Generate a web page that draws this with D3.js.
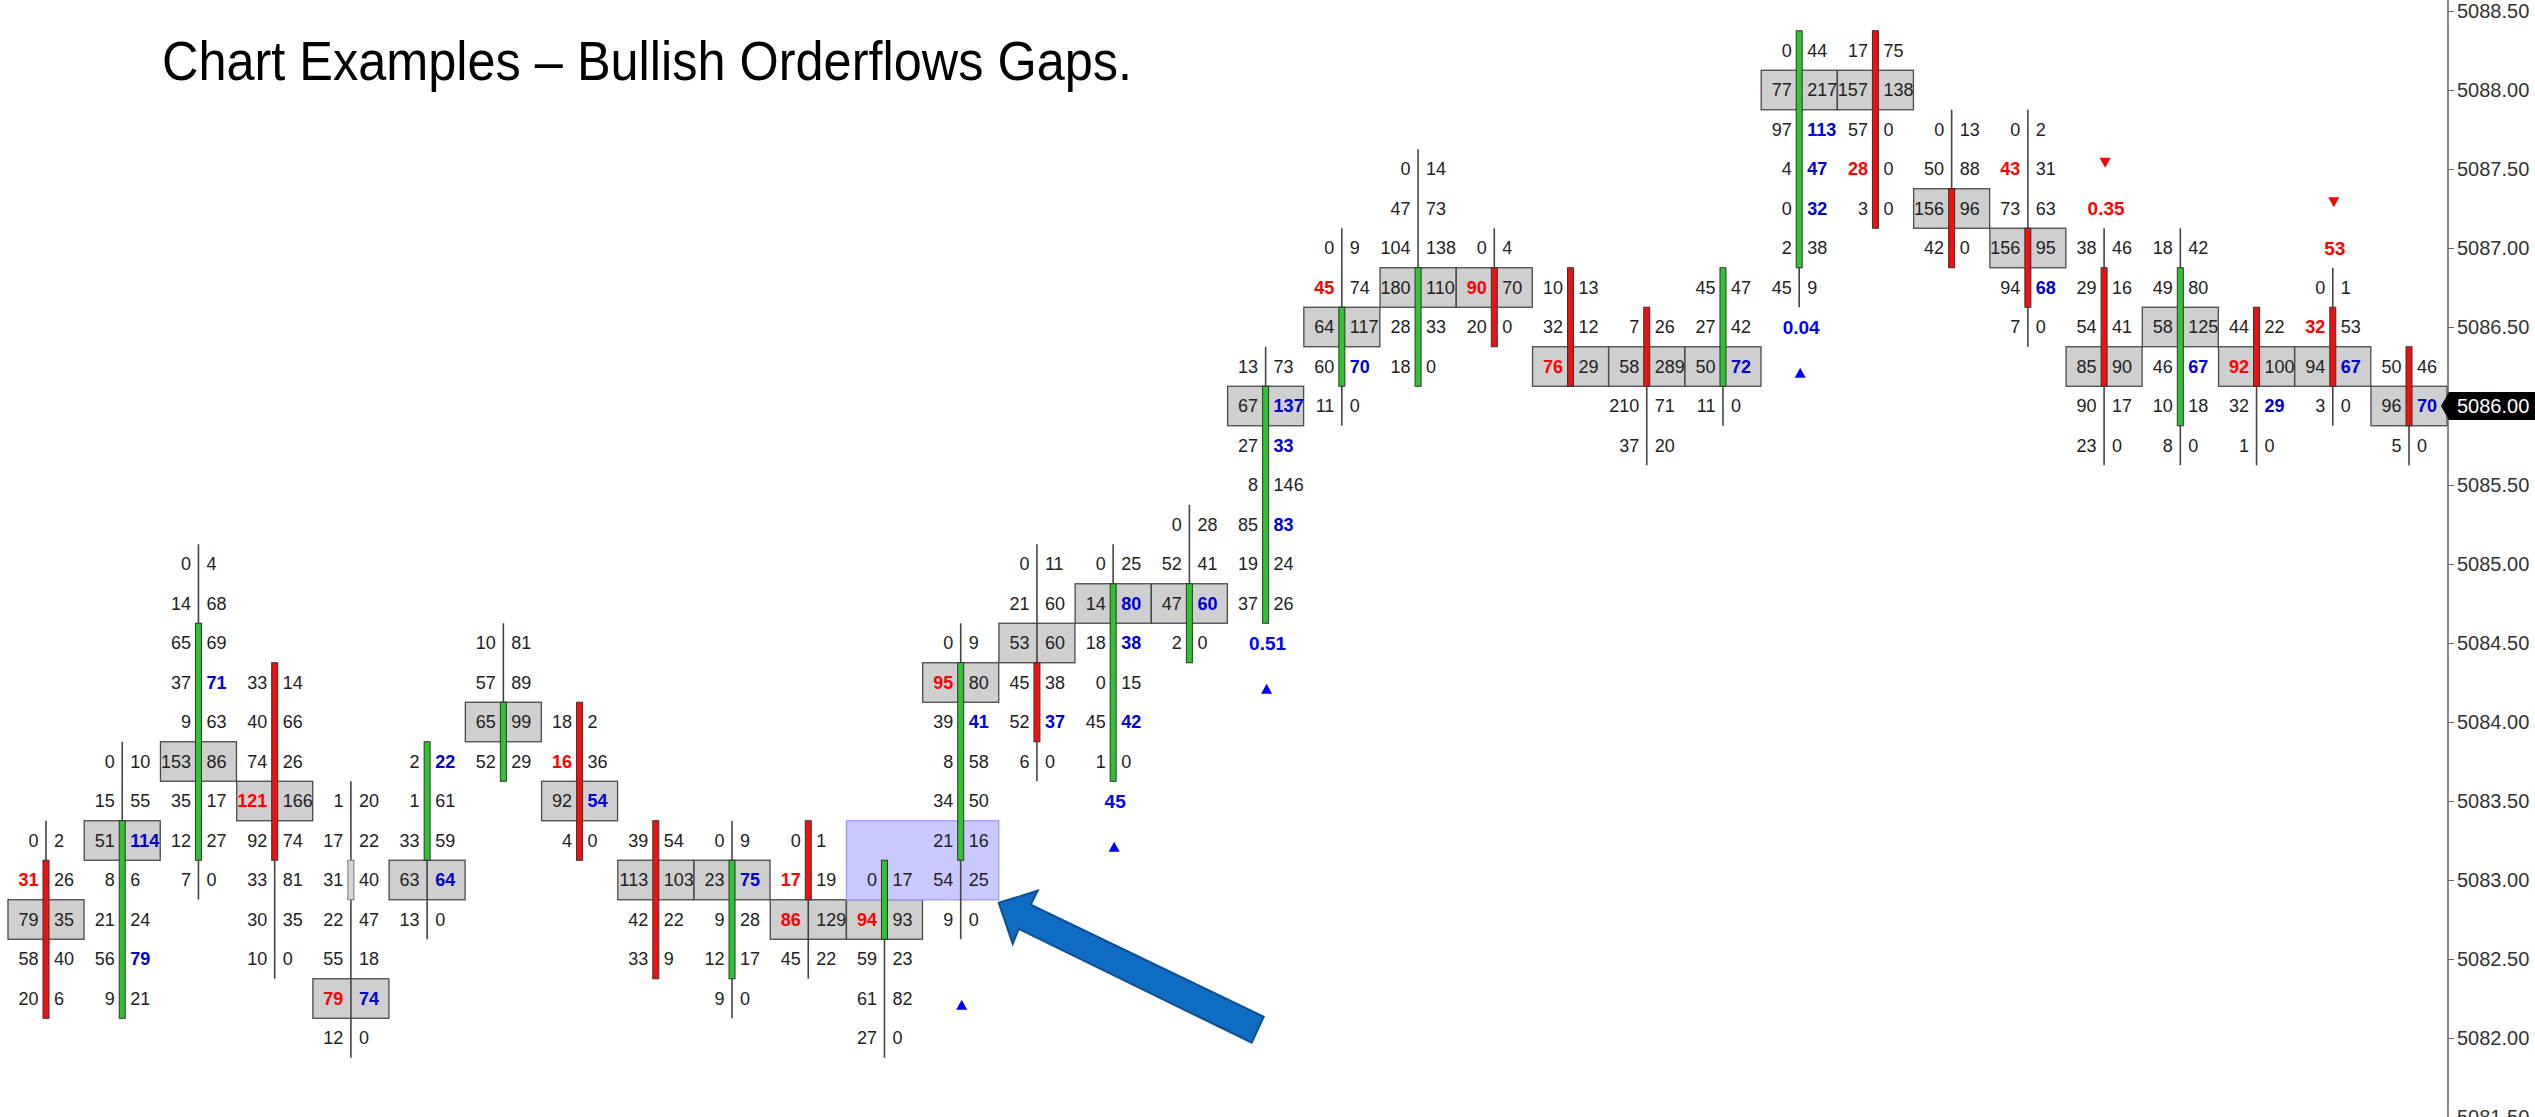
<!DOCTYPE html>
<html>

<head>
    <meta charset="utf-8">
    <style>
        body {
            margin: 0;
            background: #fff;
        }

        svg {
            display: block;
            font-family: "Liberation Sans", Arial, sans-serif;
        }

        .y .tick text {
            font-size: 20px;
            fill: #333;
        }

        .y .tick line {
            stroke: #666;
        }

        .y .domain {
            display: none;
        }

        .cell {
            font-size: 18px;
            fill: #222;
        }
    </style>
</head>

<body>
    <svg width="2535" height="1117"></svg>
</body>

<script src="https://d3js.org/d3.v7.min.js"></script>

<script>
    // price ladder
    let priceTicks = [5088.5, 5088, 5087.5, 5087, 5086.5, 5086, 5085.5, 5085, 5084.5, 5084, 5083.5, 5083, 5082.5, 5082, 5081.5];
    let tickStep = 0.25;
    let lastPrice = 5086.00;

    // top price of each footprint bar
    let barTop = [5083.25, 5083.75, 5085.00, 5084.25, 5083.50, 5083.75, 5084.50, 5084.00, 5083.25, 5083.25, 5083.25, 5083.00, 5084.50, 5085.00, 5085.00, 5085.25,
        5086.25, 5087.00, 5087.50, 5087.00, 5086.75, 5086.50, 5086.75, 5088.25, 5088.25, 5087.75, 5087.75, 5087.00, 5087.00, 5086.50, 5086.75, 5086.25];

    // bid x ask volume per row, top row first
    let bidVol = [
        [0, 31, 79, 58, 20], [0, 15, 51, 8, 21, 56, 9], [0, 14, 65, 37, 9, 153, 35, 12, 7], [33, 40, 74, 121, 92, 33, 30, 10],
        [1, 17, 31, 22, 55, 79, 12], [2, 1, 33, 63, 13], [10, 57, 65, 52], [18, 16, 92, 4],
        [39, 113, 42, 33], [0, 23, 9, 12, 9], [0, 17, 86, 45], [0, 94, 59, 61, 27],
        [0, 95, 39, 8, 34, 21, 54, 9], [0, 21, 53, 45, 52, 6], [0, 14, 18, 0, 45, 1], [0, 52, 47, 2],
        [13, 67, 27, 8, 85, 19, 37], [0, 45, 64, 60, 11], [0, 47, 104, 180, 28, 18], [0, 90, 20],
        [10, 32, 76], [7, 58, 210, 37], [45, 27, 50, 11], [0, 77, 97, 4, 0, 2, 45],
        [17, 157, 57, 28, 3], [0, 50, 156, 42], [0, 43, 73, 156, 94, 7], [38, 29, 54, 85, 90, 23],
        [18, 49, 58, 46, 10, 8], [44, 92, 32, 1], [0, 32, 94, 3], [50, 96, 5]];
    let askVol = [
        [2, 26, 35, 40, 6], [10, 55, 114, 6, 24, 79, 21], [4, 68, 69, 71, 63, 86, 17, 27, 0], [14, 66, 26, 166, 74, 81, 35, 0],
        [20, 22, 40, 47, 18, 74, 0], [22, 61, 59, 64, 0], [81, 89, 99, 29], [2, 36, 54, 0],
        [54, 103, 22, 9], [9, 75, 28, 17, 0], [1, 19, 129, 22], [17, 93, 23, 82, 0],
        [9, 80, 41, 58, 50, 16, 25, 0], [11, 60, 60, 38, 37, 0], [25, 80, 38, 15, 42, 0], [28, 41, 60, 0],
        [73, 137, 33, 146, 83, 24, 26], [9, 74, 117, 70, 0], [14, 73, 138, 110, 33, 0], [4, 70, 0],
        [13, 12, 29], [26, 289, 71, 20], [47, 42, 72, 0], [44, 217, 113, 47, 32, 38, 9],
        [75, 138, 0, 0, 0], [13, 88, 96, 0], [2, 31, 63, 95, 68, 0], [46, 16, 41, 90, 17, 0],
        [42, 80, 125, 67, 18, 0], [22, 100, 29, 0], [1, 53, 67, 0], [46, 70, 0]];

    // row index of the point of control (grey box)
    let pocRow = [2, 2, 5, 3, 5, 3, 2, 2, 1, 1, 2, 1, 1, 2, 1, 2, 1, 2, 3, 1, 2, 1, 2, 1, 1, 2, 3, 3, 2, 1, 2, 1];

    // imbalance rows (red bid / blue ask)
    let bidImb = [[1], [], [], [3], [5], [], [], [1], [], [], [1, 2], [1], [1], [], [], [],
        [], [1], [], [1], [2], [], [], [], [3], [], [1], [], [], [1], [1], []];
    let askImb = [[], [2, 5], [3], [], [5], [0, 3], [], [2], [], [1], [], [], [2], [4], [1, 2, 4], [2],
        [1, 2, 4], [3], [], [], [], [], [2], [2, 3, 4], [], [], [4], [], [3], [2], [2], [1]];

    // candle bodies
    let bodyHi = [5083.00, 5083.25, 5084.50, 5084.25, 5083.00, 5083.75, 5084.00, 5084.00, 5083.25, 5083.00, 5083.25, 5083.00, 5084.25, 5084.25, 5084.75, 5084.75,
        5086.00, 5086.50, 5086.75, 5086.75, 5086.75, 5086.50, 5086.75, 5088.25, 5088.25, 5087.25, 5087.00, 5086.75, 5086.75, 5086.50, 5086.50, 5086.25];
    let bodyLo = [5082.25, 5082.25, 5083.25, 5083.25, 5083.00, 5083.25, 5083.75, 5083.25, 5082.50, 5082.50, 5083.00, 5082.75, 5083.25, 5084.00, 5083.75, 5084.50,
        5084.75, 5086.25, 5086.25, 5086.50, 5086.25, 5086.25, 5086.25, 5087.00, 5087.25, 5087.00, 5086.75, 5086.25, 5086.00, 5086.25, 5086.25, 5086.00];
    let bodyDir = ["dn", "up", "up", "dn", "flat", "up", "up", "dn", "dn", "up", "dn", "up", "up", "dn", "up", "up",
        "up", "up", "up", "dn", "dn", "dn", "up", "up", "dn", "dn", "dn", "dn", "up", "dn", "dn", "dn"];

    // signals under / over bars
    let sigBar = [12, 14, 16, 23, 27, 30];
    let sigText = ["", "45", "0.51", "0.04", "0.35", "53"];
    let sigUp = [true, true, true, true, false, false];

    // the gap zone
    let gapBars = [11, 12];
    let gapPrices = [5083.25, 5083.00];

    let width = 2535;
    let height = 1117;
    let svg = d3.select("svg");

    let y = d3.scaleLinear().domain([5081.5, 5088.5]).range([1117, 11]);
    let x = d3.scaleLinear().domain([0, barTop.length - 1]).range([46, 2409]);
    let half = (y(5086) - y(5086 + tickStep)) / 2;
    let cellHalf = 38;

    let cells = [];
    barTop.forEach((top, i) => {
        bidVol[i].forEach((b, j) => {
            cells.push({
                bar: i, price: top - j * tickStep, bid: b, ask: askVol[i][j],
                poc: pocRow[i] === j, bidHot: bidImb[i].includes(j), askHot: askImb[i].includes(j)
            });
        });
    });

    // grey point of control boxes
    svg.append("g")
        .selectAll("rect")
        .data(cells.filter(d => d.poc))
        .join("rect")
        .attr("x", d => x(d.bar) - cellHalf)
        .attr("y", d => y(d.price) - half)
        .attr("width", cellHalf * 2)
        .attr("height", half * 2)
        .attr("fill", "#cfcfcf")
        .attr("stroke", "#4a4a4a")
        .attr("stroke-width", 1.3);

    // gap highlight
    svg.append("rect")
        .attr("x", x(gapBars[0]) - cellHalf)
        .attr("y", y(gapPrices[0]) - half)
        .attr("width", x(gapBars[1]) - x(gapBars[0]) + cellHalf * 2)
        .attr("height", y(gapPrices[1]) - y(gapPrices[0]) + half * 2)
        .attr("fill", "#c9c9ff")
        .attr("stroke", "#a3a3f5")
        .attr("stroke-width", 1.5);

    // wicks
    svg.append("g")
        .selectAll("line")
        .data(barTop)
        .join("line")
        .attr("x1", (d, i) => x(i))
        .attr("x2", (d, i) => x(i))
        .attr("y1", d => y(d) - half)
        .attr("y2", (d, i) => y(d - (bidVol[i].length - 1) * tickStep) + half)
        .attr("stroke", "#444")
        .attr("stroke-width", 1.6);

    // bodies
    let bodyFill = { up: "#2fc42f", dn: "#f01010", flat: "#d6d6d6" };
    svg.append("g")
        .selectAll("rect")
        .data(bodyHi)
        .join("rect")
        .attr("x", (d, i) => x(i) - 3)
        .attr("y", d => y(d) - half)
        .attr("width", 6)
        .attr("height", (d, i) => y(bodyLo[i]) - y(d) + half * 2)
        .attr("fill", (d, i) => bodyFill[bodyDir[i]])
        .attr("stroke", (d, i) => bodyDir[i] === "flat" ? "#777" : "#333")
        .attr("stroke-width", 1);

    // numbers
    let txt = svg.append("g");
    txt.selectAll(".bid")
        .data(cells)
        .join("text")
        .attr("class", "cell bid")
        .attr("x", d => x(d.bar) - 7.5)
        .attr("y", d => y(d.price))
        .attr("dy", "0.36em")
        .attr("text-anchor", "end")
        .style("fill", d => d.bidHot ? "#ff0000" : null)
        .style("font-weight", d => d.bidHot ? "bold" : null)
        .text(d => d.bid);

    txt.selectAll(".ask")
        .data(cells)
        .join("text")
        .attr("class", "cell ask")
        .attr("x", d => x(d.bar) + 8)
        .attr("y", d => y(d.price))
        .attr("dy", "0.36em")
        .attr("text-anchor", "start")
        .style("fill", d => d.askHot ? "#0000d0" : null)
        .style("font-weight", d => d.askHot ? "bold" : null)
        .text(d => d.ask);

    // signals
    let sig = sigBar.map((b, i) => {
        let n = bidVol[b].length;
        let edge = sigUp[i] ? barTop[b] - (n - 1) * tickStep : barTop[b];
        let s = sigUp[i] ? -1 : 1;
        return { bar: b, text: sigText[i], up: sigUp[i], labelP: edge + s * 0.25, triP: edge + s * 0.54 };
    });

    svg.append("g")
        .selectAll("text")
        .data(sig)
        .join("text")
        .attr("x", d => x(d.bar) + 2)
        .attr("y", d => y(d.labelP))
        .attr("dy", "0.36em")
        .attr("text-anchor", "middle")
        .attr("font-size", 19)
        .attr("font-weight", "bold")
        .attr("fill", d => d.up ? "#0000ff" : "#ff0000")
        .text(d => d.text);

    svg.append("g")
        .selectAll("path")
        .data(sig)
        .join("path")
        .attr("transform", d => `translate(${x(d.bar) + 1},${y(d.triP)})`)
        .attr("d", d => d.up ? "M0,-5L5.5,5L-5.5,5Z" : "M0,5L5.5,-5L-5.5,-5Z")
        .attr("fill", d => d.up ? "#0000ff" : "#ff0000");

    // price axis
    let axisX = 2448;
    svg.append("line")
        .attr("x1", axisX).attr("x2", axisX)
        .attr("y1", 0).attr("y2", height)
        .attr("stroke", "#666")
        .attr("stroke-width", 1.5);

    svg.append("g")
        .attr("class", "y axis")
        .attr("transform", `translate(${axisX},0)`)
        .call(d3.axisRight(y)
            .tickValues(priceTicks)
            .tickFormat(d3.format(".2f"))
            .tickSize(6)
            .tickSizeOuter(0)
            .tickPadding(3));

    // last price tag
    let ly = y(lastPrice);
    svg.append("path")
        .attr("d", `M${axisX - 7},${ly}L${axisX + 1},${ly - 14}L${width},${ly - 14}L${width},${ly + 14}L${axisX + 1},${ly + 14}Z`)
        .attr("fill", "#000");
    svg.append("text")
        .attr("x", axisX + 9)
        .attr("y", ly)
        .attr("dy", "0.36em")
        .attr("font-size", 20)
        .attr("fill", "#fff")
        .text(d3.format(".2f")(lastPrice));

    // arrow pointing at the gap
    let ax = x(gapBars[1]) + cellHalf;
    let ay = y(gapPrices[1]) + half + 3;
    let arrowPts = [[0, 0], [39, -12], [32, 2], [265, 114], [253, 140], [20, 26], [14, 41]];
    svg.append("path")
        .attr("d", d3.line()(arrowPts.map(p => [ax + p[0], ay + p[1]])) + "Z")
        .attr("fill", "#106cc2")
        .attr("stroke", "#0b4f96")
        .attr("stroke-width", 2);

    svg.append("text")
        .attr("x", 162)
        .attr("y", 80)
        .attr("font-family", "'Liberation Sans Narrow', 'Arial Narrow', 'Liberation Sans', Arial, sans-serif")
        .attr("font-size", 56)
        .attr("textLength", 970)
        .attr("lengthAdjust", "spacingAndGlyphs")
        .attr("fill", "#000")
        .text("Chart Examples – Bullish Orderflows Gaps.");
</script>

</html>
